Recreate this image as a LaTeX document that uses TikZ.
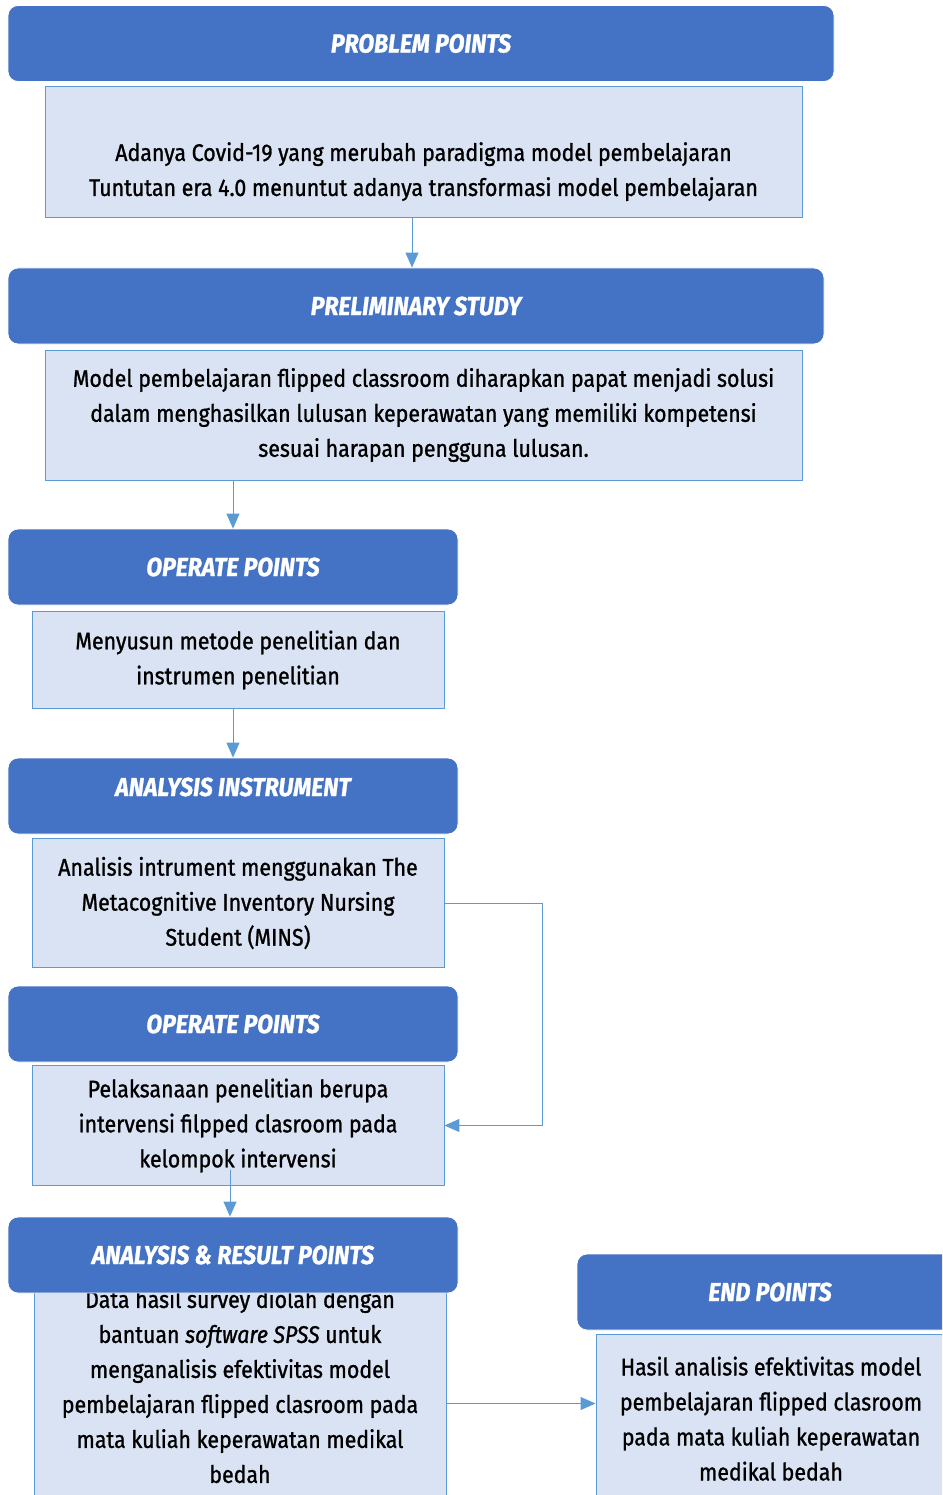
\documentclass[tikz,border=0pt]{standalone}
\usepackage{fontspec}
\setmainfont{Fira Sans}[FakeStretch=0.89,FakeBold=1.1]
\usetikzlibrary{arrows.meta,positioning}
\definecolor{headblue}{HTML}{4472C4}
\definecolor{boxfill}{HTML}{DAE3F3}
\definecolor{boxline}{HTML}{5B9BD5}
\begin{document}
\begin{tikzpicture}[x=1pt,y=-1pt,>={Triangle[width=13pt,length=15pt]},
  headbox/.style={draw=white,line width=0.8pt,rounded corners=10pt,fill=headblue,text=white,font=\fontsize{26}{30}\selectfont\bfseries\itshape,minimum height=76pt,inner sep=0pt},
  textbox/.style={draw=boxline,line width=0.9pt,fill=boxfill,align=center,font=\fontsize{24}{35}\selectfont,inner sep=0pt},
  link/.style={->,draw=boxline,line width=1pt}]
\useasboundingbox (0,0) rectangle (942,1495);
\clip (0,0) rectangle (942,1495);
% problem and preliminary study
\node[headbox,minimum width=826pt] (hd1) at (421,43.5) {PROBLEM POINTS};
\node[textbox,minimum width=757pt,minimum height=131pt] (bx1) at (423.5,151.5) {\rule{0pt}{24pt}\\Adanya Covid-19 yang merubah paradigma model pembelajaran\\Tuntutan era 4.0 menuntut adanya transformasi model pembelajaran};
\node[headbox,minimum width=816pt] (hd2) at (416,306) {PRELIMINARY STUDY};
\node[textbox,minimum width=757pt,minimum height=130pt] (bx2) at (423.5,415) {Model pembelajaran flipped classroom diharapkan papat menjadi solusi\\dalam menghasilkan lulusan keperawatan yang memiliki kompetensi\\sesuai harapan pengguna lulusan.};
% operate and instrument
\node[headbox,minimum width=450pt] (hd3) at (233,567) {OPERATE POINTS};
\node[textbox,minimum width=412pt,minimum height=97pt] (bx3) at (238,660) {Menyusun metode penelitian dan\\instrumen penelitian};
\node[headbox,minimum width=450pt] (hd4) at (233,796) {\raisebox{9pt}[\height][\depth]{ANALYSIS INSTRUMENT}};
\node[textbox,minimum width=412pt,minimum height=129pt] (bx4) at (238,903) {Analisis intrument menggunakan The\\Metacognitive Inventory Nursing\\Student (MINS)};
\node[headbox,minimum width=450pt] (hd5) at (233,1024) {OPERATE POINTS};
\node[textbox,minimum width=412pt,minimum height=120pt] (bx5) at (238,1125.5) {Pelaksanaan penelitian berupa\\intervensi filpped clasroom pada\\kelompok intervensi};
% analysis and end
\node[textbox,minimum width=412pt,minimum height=215pt] (bx6) at (240,1403.5) {Data hasil survey diolah dengan\\bantuan \textit{software SPSS} untuk\\menganalisis efektivitas model\\pembelajaran flipped clasroom pada\\mata kuliah keperawatan medikal\\bedah\\\mbox{}};
\node[headbox,minimum width=450pt] (hd6) at (233,1255) {ANALYSIS \& RESULT POINTS};
\node[headbox,minimum width=386pt] (hd7) at (770,1292) {END POINTS};
\node[textbox,minimum width=350pt,minimum height=204pt] (bx7) at (771,1436) {Hasil analisis efektivitas model\\pembelajaran flipped clasroom\\pada mata kuliah keperawatan\\medikal bedah\\\mbox{}};
% connectors
\draw[link] ([xshift=-11.5pt]bx1.south) -- ([xshift=-11.5pt]bx1.south |- hd2.north);
\draw[link] (bx2.south -| hd3.north) -- (hd3.north);
\draw[link] (hd4.north |- bx3.south) -- (hd4.north);
\draw[link] (bx4.east) -- ++(98,0) |- (bx5.east);
\draw[link] ([yshift=16pt,xshift=-8pt]bx5.south) -- ([xshift=-8pt]bx5.south |- hd6.north);
\draw[link] (bx6.east) -- (bx6.east -| bx7.west);
\end{tikzpicture}
\end{document}
